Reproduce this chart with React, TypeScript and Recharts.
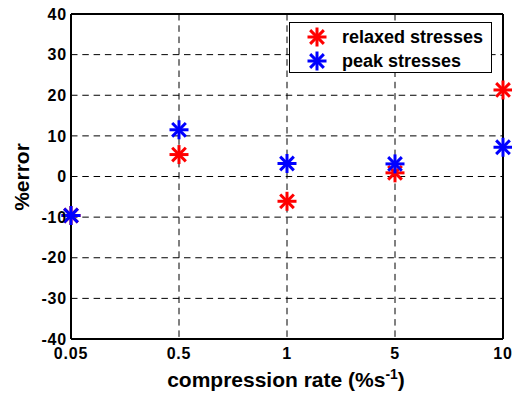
import { ScatterChart, Scatter, XAxis, YAxis, CartesianGrid, Legend } from 'recharts';

const rates = ['0.05', '0.5', '1', '5', '10'];
const relaxedStress = [-9.6, 5.4, -6.1, 0.9, 21.3];
const peakStress = [-9.6, 11.5, 3.2, 3.1, 7.2];
const yTicks = [-40, -30, -20, -10, 0, 10, 20, 30, 40];

const xIdx = rates.map((_, i) => i);
const relaxedData = relaxedStress.map((v, i) => ({ x: i, y: v }));
const peakData = peakStress.map((v, i) => ({ x: i, y: v }));

const FONT = '"Liberation Sans", Arial, Helvetica, sans-serif';
const tickStyle = { fill: '#000', fontSize: 16, fontWeight: 'bold', fontFamily: FONT, letterSpacing: 0.8 };

function Star(props: any) {
  const { cx, cy, fill } = props;
  const r = 9.5;
  const d = r * 0.72;
  return (
    <g stroke={fill} strokeWidth={3} strokeLinecap="butt">
      <line x1={cx - r} y1={cy} x2={cx + r} y2={cy} />
      <line x1={cx} y1={cy - r} x2={cx} y2={cy + r} />
      <line x1={cx - d} y1={cy - d} x2={cx + d} y2={cy + d} />
      <line x1={cx - d} y1={cy + d} x2={cx + d} y2={cy - d} />
    </g>
  );
}

function LegendBox() {
  const rows = [
    { name: 'relaxed stresses', color: '#ff0000' },
    { name: 'peak stresses', color: '#0000ff' },
  ];
  return (
    <div
      style={{
        width: 203,
        height: 51,
        border: '1px solid #000',
        background: '#fff',
        fontFamily: FONT,
        fontWeight: 'bold',
        fontSize: 18,
        boxSizing: 'border-box',
      }}
    >
      {rows.map((r, i) => (
        <div key={r.name} style={{ display: 'flex', alignItems: 'center', height: 24, marginTop: i === 0 ? 2 : 0 }}>
          <svg width={52} height={24}>
            <Star cx={27} cy={12} fill={r.color} />
          </svg>
          <span>{r.name}</span>
        </div>
      ))}
    </div>
  );
}

export default function App() {
  return (
    <div style={{ position: 'absolute', left: 0, top: 0, width: 512, height: 396, background: '#fff' }}>
      <ScatterChart width={512} height={396} margin={{ top: 14, right: 9, bottom: 17, left: 11 }}>
        <CartesianGrid stroke="#000" strokeDasharray="6.5 4.8" ticks={yTicks} />
        <XAxis
          type="number"
          dataKey="x"
          domain={[0, 4]}
          ticks={xIdx}
          tickFormatter={(i: number) => rates[i]}
          height={40}
          tickSize={0}
          tickMargin={9}
          axisLine={{ stroke: '#000', strokeWidth: 2 }}
          tick={tickStyle}
          interval={0}
        />
        <XAxis
          xAxisId="top"
          orientation="top"
          type="number"
          domain={[0, 4]}
          ticks={xIdx}
          height={1}
          mirror
          tickSize={5}
          tick={false}
          tickLine={{ stroke: '#000' }}
          axisLine={{ stroke: '#000', strokeWidth: 2 }}
        />
        <YAxis
          type="number"
          dataKey="y"
          domain={[-40, 40]}
          ticks={yTicks}
          width={60}
          tickSize={0}
          tickMargin={4}
          axisLine={{ stroke: '#000', strokeWidth: 2 }}
          tick={tickStyle}
          interval={0}
        />
        <YAxis
          yAxisId="right"
          orientation="right"
          type="number"
          domain={[-40, 40]}
          ticks={yTicks}
          width={1}
          mirror
          tickSize={5}
          tick={false}
          tickLine={{ stroke: '#000' }}
          axisLine={{ stroke: '#000', strokeWidth: 2 }}
        />
        <Legend
          layout="vertical"
          align="center"
          verticalAlign="middle"
          wrapperStyle={{ left: 289, top: 22, width: 203 }}
          content={() => <LegendBox />}
        />
        <Scatter name="relaxed stresses" data={relaxedData} fill="#ff0000" shape={Star} isAnimationActive={false} />
        <Scatter name="peak stresses" data={peakData} fill="#0000ff" shape={Star} isAnimationActive={false} />
      </ScatterChart>
      <div
        style={{
          position: 'absolute',
          left: 0,
          width: 512,
          top: 366,
          paddingLeft: 60,
          boxSizing: 'border-box',
          textAlign: 'center',
          fontFamily: FONT,
          fontWeight: 'bold',
          fontSize: 21,
        }}
      >
        compression rate (%s<sup style={{ fontSize: 14 }}>-1</sup>)
      </div>
      <div
        style={{
          position: 'absolute',
          left: 22,
          top: 177,
          transform: 'translate(-50%, -50%) rotate(-90deg)',
          whiteSpace: 'nowrap',
          fontFamily: FONT,
          fontWeight: 'bold',
          fontSize: 21,
        }}
      >
        %error
      </div>
    </div>
  );
}
